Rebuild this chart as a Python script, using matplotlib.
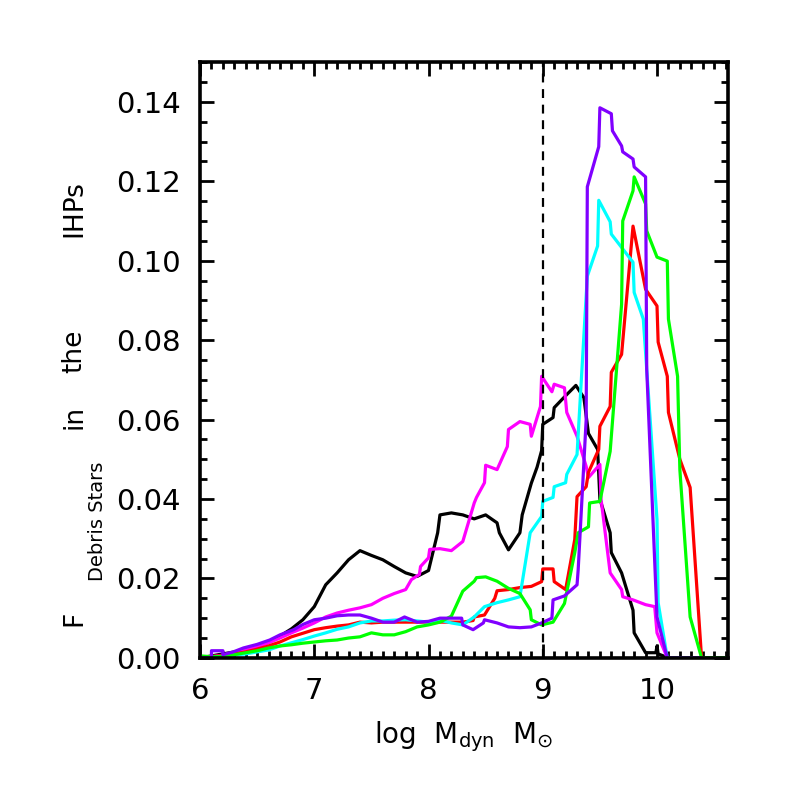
import matplotlib
matplotlib.use("Agg")
import matplotlib.pyplot as plt
from matplotlib.ticker import MultipleLocator

# ---- data ----
black_x = [6.0,6.1,6.2,6.3,6.4,6.5,6.6,6.7,6.8,6.9,7.0,7.1,7.2,7.3,7.4,7.5,7.6,7.7,7.8,7.9,8.0,8.08,8.1,8.2,8.3,8.4,8.5,8.6,8.62,8.7,8.8,8.82,8.9,8.95,8.99,9.0,9.09,9.1,9.2,9.29,9.36,9.4,9.48,9.5,9.59,9.6,9.69,9.79,9.8,9.9,9.99,10.0,10.01,10.1,10.62]
black_y = [0.0,0.0005,0.001,0.0015,0.002,0.003,0.004,0.0055,0.0073,0.0096,0.0129,0.0184,0.0214,0.0247,0.027,0.0258,0.0247,0.023,0.0214,0.0205,0.022,0.0315,0.036,0.0365,0.036,0.035,0.036,0.034,0.0315,0.0272,0.0315,0.036,0.044,0.048,0.0522,0.0588,0.0605,0.063,0.066,0.0686,0.0655,0.0565,0.0525,0.040,0.0315,0.0265,0.0214,0.012,0.0063,0.0013,0.0013,0.003,0.001,0.0,0.0]

magenta_x = [6.0,6.1,6.2,6.3,6.4,6.5,6.6,6.7,6.8,6.9,7.0,7.1,7.2,7.3,7.4,7.5,7.6,7.7,7.8,7.85,7.92,7.93,8.0,8.01,8.1,8.2,8.3,8.4,8.42,8.49,8.5,8.6,8.69,8.7,8.8,8.89,8.9,8.98,8.99,9.08,9.1,9.19,9.21,9.3,9.38,9.4,9.5,9.51,9.59,9.69,9.7,9.79,9.9,9.98,10.0,10.09]
magenta_y = [0.0,0.0003,0.0007,0.0012,0.002,0.0028,0.0038,0.005,0.0063,0.0075,0.0088,0.0103,0.0113,0.012,0.0126,0.0134,0.015,0.0162,0.0172,0.0197,0.021,0.023,0.0252,0.0273,0.0275,0.027,0.0293,0.039,0.0404,0.0441,0.0485,0.0474,0.0532,0.0575,0.0595,0.0588,0.0558,0.0633,0.0709,0.067,0.0689,0.068,0.0618,0.0558,0.0482,0.0454,0.0487,0.040,0.0214,0.0172,0.0154,0.0146,0.0134,0.0129,0.0063,0.0]

red_x = [6.0,6.1,6.2,6.3,6.4,6.5,6.6,6.7,6.8,6.9,7.0,7.1,7.2,7.3,7.4,7.5,7.6,7.7,7.8,7.9,8.0,8.1,8.2,8.3,8.39,8.4,8.49,8.58,8.6,8.7,8.8,8.9,8.99,9.0,9.09,9.1,9.2,9.28,9.3,9.38,9.4,9.49,9.5,9.59,9.6,9.69,9.79,9.9,10.0,10.01,10.09,10.1,10.2,10.29,10.39]
red_y = [0.0,0.0003,0.0006,0.001,0.0015,0.0022,0.003,0.004,0.0053,0.0062,0.0071,0.0076,0.008,0.0083,0.009,0.0088,0.009,0.009,0.009,0.009,0.009,0.009,0.009,0.009,0.0094,0.0103,0.0108,0.015,0.0169,0.0172,0.0177,0.018,0.0192,0.0224,0.0224,0.0192,0.0172,0.0298,0.0406,0.0431,0.0467,0.0525,0.0583,0.0633,0.0719,0.0764,0.1087,0.0928,0.0886,0.0795,0.0709,0.0618,0.050,0.0429,0.0]

cyan_x = [6.0,6.1,6.2,6.3,6.4,6.5,6.6,6.7,6.8,6.9,7.0,7.1,7.2,7.3,7.4,7.5,7.6,7.7,7.8,7.9,8.0,8.1,8.2,8.3,8.4,8.49,8.6,8.7,8.8,8.89,8.99,9.0,9.09,9.1,9.2,9.21,9.3,9.39,9.48,9.49,9.59,9.6,9.79,9.8,9.88,10.0,10.01,10.09,10.38]
cyan_y = [0.0,0.0002,0.0004,0.0007,0.001,0.0015,0.002,0.003,0.0038,0.0046,0.0055,0.0063,0.0072,0.0078,0.0088,0.0093,0.0093,0.0095,0.0096,0.0093,0.009,0.0095,0.0088,0.0083,0.0103,0.0129,0.0139,0.0146,0.0154,0.0315,0.0356,0.0394,0.0404,0.0431,0.0441,0.0462,0.0512,0.0961,0.1037,0.1152,0.1098,0.1067,0.0996,0.092,0.0853,0.0348,0.0139,0.0,0.0]

green_x = [6.0,6.1,6.2,6.3,6.4,6.5,6.6,6.7,6.8,6.9,7.0,7.1,7.2,7.3,7.4,7.5,7.6,7.7,7.8,7.9,8.0,8.1,8.2,8.3,8.4,8.42,8.5,8.6,8.7,8.8,8.89,8.9,8.99,9.09,9.19,9.28,9.31,9.4,9.41,9.5,9.59,9.69,9.7,9.79,9.8,9.9,9.91,10.0,10.09,10.1,10.18,10.2,10.29,10.39,10.62]
green_y = [0.0005,0.0003,0.0003,0.0008,0.0013,0.0018,0.0025,0.003,0.0033,0.0037,0.004,0.0043,0.0045,0.005,0.0053,0.0063,0.0058,0.0058,0.0066,0.0078,0.0083,0.009,0.0105,0.0168,0.0193,0.0202,0.0204,0.0193,0.0175,0.0162,0.0121,0.0096,0.0083,0.009,0.0137,0.0265,0.0315,0.033,0.039,0.0394,0.052,0.089,0.110,0.1176,0.1211,0.1143,0.1075,0.1009,0.0999,0.0853,0.0709,0.0474,0.0103,0.0,0.0]

purple_x = [6.0,6.1,6.1,6.2,6.2,6.29,6.38,6.5,6.61,6.7,6.82,6.9,7.0,7.1,7.2,7.3,7.4,7.5,7.6,7.7,7.79,7.9,8.0,8.1,8.2,8.29,8.3,8.39,8.48,8.49,8.6,8.7,8.8,8.9,8.99,9.08,9.09,9.19,9.3,9.31,9.38,9.39,9.49,9.5,9.6,9.61,9.69,9.7,9.79,9.8,9.9,9.91,10.0,10.09,10.38]
purple_y = [0.0,0.0,0.0018,0.0018,0.0008,0.0015,0.0025,0.0034,0.0045,0.0058,0.0071,0.0084,0.0096,0.010,0.0106,0.0108,0.0108,0.010,0.009,0.009,0.0103,0.009,0.0092,0.010,0.010,0.010,0.0083,0.0071,0.0088,0.0096,0.0088,0.0078,0.0076,0.0078,0.0088,0.010,0.0146,0.0156,0.0184,0.0222,0.060,0.1186,0.1287,0.1385,0.137,0.1327,0.1289,0.1274,0.1256,0.1236,0.1211,0.0727,0.0103,0.0,0.0]

vline_x = 9.0
x_ticks = [6, 7, 8, 9, 10]
y_ticks = [0.00, 0.02, 0.04, 0.06, 0.08, 0.10, 0.12, 0.14]

W = 786.0
fig = plt.figure(figsize=(7.86, 7.86), dpi=100)
ax = fig.add_axes([0.2545, 0.163, 0.6715, 0.758])

lw = 2.3
ax.plot(black_x, black_y, color='black', lw=lw)
ax.plot(magenta_x, magenta_y, color='#ff00ff', lw=lw)
ax.plot(red_x, red_y, color='#ff0000', lw=lw)
ax.plot(cyan_x, cyan_y, color='#00ffff', lw=lw)
ax.plot(green_x, green_y, color='#00ff00', lw=lw)
ax.plot(purple_x, purple_y, color='#8000ff', lw=lw)
ax.axvline(vline_x, color='black', lw=1.6, ls=(0, (4, 3)))

ax.set_xlim(6, 10.62)
ax.set_ylim(0, 0.15)
ax.set_xticks(x_ticks)
ax.set_xticklabels([str(t) for t in x_ticks])
ax.set_yticks(y_ticks)
ax.set_yticklabels([f"{t:.2f}" for t in y_ticks])
ax.xaxis.set_minor_locator(MultipleLocator(0.1))
ax.yaxis.set_minor_locator(MultipleLocator(0.005))
ax.tick_params(which='both', direction='in', top=True, right=True, width=2.0)
ax.tick_params(which='major', length=10, labelsize=21, pad=14)
ax.tick_params(which='minor', length=5)
for s in ax.spines.values():
    s.set_linewidth(2.6)

ax.set_xlabel(r"log  M$_{\rm dyn}$  M$_{\odot}$", fontsize=20, labelpad=10)

# y-axis label, written piece by piece as in the reference
ylabel_parts = [("F", 81, 618, 19), ("Debris Stars", 103, 521, 14),
                ("in", 81, 417, 19), ("the", 81, 351, 19), ("IHPs", 81, 209, 19)]
for txt, xb, yc, fs in ylabel_parts:
    fig.text(xb / W, 1 - yc / W, txt, rotation=90, rotation_mode='anchor',
             ha='center', va='baseline', fontsize=fs)

fig.savefig("out.png", dpi=100)
